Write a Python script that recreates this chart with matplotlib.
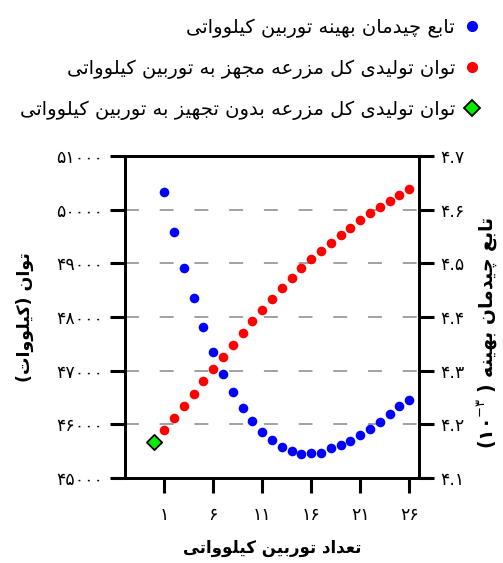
import matplotlib
matplotlib.use("Agg")
import matplotlib.pyplot as plt
from matplotlib.lines import Line2D

plt.rcParams['font.family'] = ['DejaVu Sans']
plt.rcParams['mathtext.fontset'] = 'dejavusans'
plt.rcParams['lines.scale_dashes'] = False

# data
turbines = list(range(1, 27))
power_with = [45888, 46118, 46342, 46571, 46801, 47025, 47255, 47484, 47702, 47925,
              48124, 48342, 48540, 48720, 48907, 49075, 49230, 49385, 49528, 49665,
              49807, 49932, 50056, 50168, 50280, 50391]
layout_func = [4.632, 4.558, 4.492, 4.435, 4.381, 4.335, 4.294, 4.260, 4.230, 4.206,
               4.186, 4.171, 4.158, 4.150, 4.144, 4.146, 4.147, 4.155, 4.161, 4.169,
               4.180, 4.192, 4.204, 4.220, 4.234, 4.245]
base_x = [0]
base_power = [45671]

xticks = [1, 6, 11, 16, 21, 26]
yticks_left = [45000, 46000, 47000, 48000, 49000, 50000, 51000]
yticks_right = [4.1, 4.2, 4.3, 4.4, 4.5, 4.6, 4.7]

# simple persian shaping (matplotlib has no complex text layout)
FORMS = {
    "ا": ("\uFE8D", "\uFE8E", None, None),
    "ب": ("\uFE8F", "\uFE90", "\uFE91", "\uFE92"),
    "ت": ("\uFE95", "\uFE96", "\uFE97", "\uFE98"),
    "ج": ("\uFE9D", "\uFE9E", "\uFE9F", "\uFEA0"),
    "د": ("\uFEA9", "\uFEAA", None, None),
    "ر": ("\uFEAD", "\uFEAE", None, None),
    "ز": ("\uFEAF", "\uFEB0", None, None),
    "ع": ("\uFEC9", "\uFECA", "\uFECB", "\uFECC"),
    "ل": ("\uFEDD", "\uFEDE", "\uFEDF", "\uFEE0"),
    "م": ("\uFEE1", "\uFEE2", "\uFEE3", "\uFEE4"),
    "ن": ("\uFEE5", "\uFEE6", "\uFEE7", "\uFEE8"),
    "ه": ("\uFEE9", "\uFEEA", "\uFEEB", "\uFEEC"),
    "و": ("\uFEED", "\uFEEE", None, None),
    "چ": ("\uFB7A", "\uFB7B", "\uFB7C", "\uFB7D"),
    "ک": ("\uFB8E", "\uFB8F", "\uFB90", "\uFB91"),
    "ی": ("\uFBFC", "\uFBFD", "\uFBFE", "\uFBFF"),
}


def fa(text):
    out = []
    for i, c in enumerate(text):
        if c not in FORMS:
            out.append(c)
            continue
        iso, fin, ini, med = FORMS[c]
        prev = text[i - 1] if i > 0 else ""
        nxt = text[i + 1] if i + 1 < len(text) else ""
        jp = prev in FORMS and FORMS[prev][2] is not None
        jn = ini is not None and nxt in FORMS
        if jp and jn:
            out.append(med)
        elif jp:
            out.append(fin)
        elif jn:
            out.append(ini)
        else:
            out.append(iso)
    vis = "".join(out)[::-1]
    return vis.translate(str.maketrans("()", ")("))


def fa_num(s):
    return str(s).translate(str.maketrans("0123456789", "۰۱۲۳۴۵۶۷۸۹"))


fig = plt.figure(figsize=(5.03, 5.63), dpi=100)
ax = fig.add_axes([0.2485, 0.1510, 0.5845, 0.5719])
ax2 = ax.twinx()

ax.scatter(turbines, power_with, s=48, color='#ff0000', zorder=3, linewidths=0)
ax.scatter(base_x, base_power, s=60, marker='D', color='#00ee00', edgecolors='black',
           linewidths=1.3, zorder=4)
ax2.scatter(turbines, layout_func, s=48, color='#0000ff', zorder=3, linewidths=0)

ax.set_xlim(-3, 27)
ax.set_ylim(45000, 51000)
ax2.set_ylim(4.1, 4.7)

ax.set_xticks(xticks)
ax.set_xticklabels([fa_num(t) for t in xticks])
ax.set_yticks(yticks_left)
ax.set_yticklabels([fa_num(t) for t in yticks_left])
ax2.set_yticks(yticks_right)
ax2.set_yticklabels([fa_num("%.1f" % t) for t in yticks_right])

ax.yaxis.grid(True, color='#888888', linestyle=(0, (10, 15)), linewidth=1.1)
ax.set_axisbelow(True)

for a in (ax, ax2):
    for sp in a.spines.values():
        sp.set_linewidth(2.0)
    a.tick_params(direction='out', length=11, width=2.2, labelsize=12.5)
ax.tick_params(axis='y', pad=5)
ax.tick_params(axis='x', pad=9)
ax2.tick_params(axis='y', pad=4)

ax.set_xlabel(fa("تعداد توربین کیلوواتی"), fontsize=12, fontweight='bold', labelpad=11)
ax.set_ylabel(fa("توان (کیلووات)"), fontsize=12.5, fontweight='bold')
ax.yaxis.set_label_coords(-0.31, 0.5)
ax2.set_ylabel("(۱۰$^{-۳}$ ) " + fa("تابع چیدمان بهینه"), fontsize=13.5,
               fontweight='bold', rotation=90)
ax2.yaxis.set_label_coords(1.195, 0.45)

handles = [
    Line2D([], [], linestyle='none', marker='o', markersize=7, color='#0000ff'),
    Line2D([], [], linestyle='none', marker='o', markersize=7, color='#ff0000'),
    Line2D([], [], linestyle='none', marker='D', markersize=8, markerfacecolor='#00ee00',
           markeredgecolor='black', markeredgewidth=1.3),
]
labels = [
    fa("تابع چیدمان بهینه توربین کیلوواتی"),
    fa("توان تولیدی کل مزرعه مجهز به توربین کیلوواتی"),
    fa("توان تولیدی کل مزرعه بدون تجهیز به توربین کیلوواتی"),
]
fig.legend(handles, labels, loc='upper right', bbox_to_anchor=(0.993, 1.0),
           frameon=False, markerfirst=False, fontsize=14, handlelength=1.0,
           handletextpad=0.4, labelspacing=1.1)

fig.savefig("out.png", dpi=100)
